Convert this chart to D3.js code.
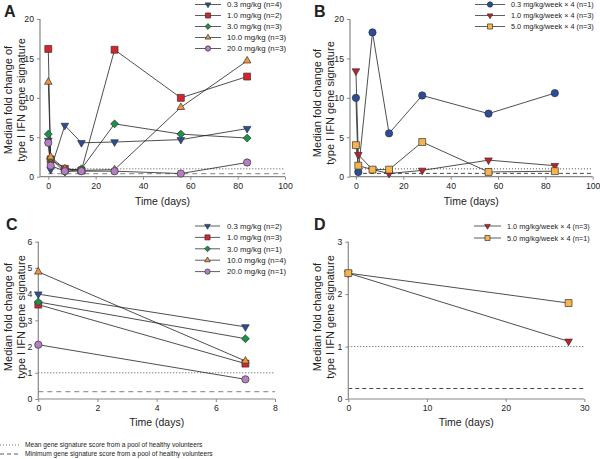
<!DOCTYPE html>
<html><head><meta charset="utf-8">
<script src="https://cdn.jsdelivr.net/npm/d3@7/dist/d3.min.js"></script>
<style>
body{margin:0;background:#fff;}
svg text{font-family:"Liberation Sans",Arial,sans-serif;fill:#222;}
</style></head>
<body><svg id="c" width="600" height="459"></svg>
<script>
// ---------- data ----------
const daysAB = [0, 1, 7, 14, 28, 56, 84];
const daysC = [0, 7];
const daysD = [0, 28];

const labelsA = ["0.3 mg/kg (n=4)", "1.0 mg/kg (n=2)", "3.0 mg/kg (n=3)", "10.0 mg/kg (n=3)", "20.0 mg/kg (n=3)"];
const valuesA03 = [4.6, 0.9, 6.5, 4.3, 4.4, 4.7, 6.1];
const valuesA10 = [16.2, 2.2, 1.0, 0.8, 16.1, 10.0, 12.7];
const valuesA30 = [5.4, 2.3, 0.6, 1.0, 6.7, 5.4, 4.9];
const valuesA100 = [12.0, 2.5, 1.0, 0.8, 0.9, 8.8, 14.7];
const valuesA200 = [4.3, 1.4, 0.7, 0.7, 0.7, 0.4, 1.8];

const labelsB = ["0.3 mg/kg/week \u00d7 4 (n=1)", "1.0 mg/kg/week \u00d7 4 (n=3)", "5.0 mg/kg/week \u00d7 4 (n=3)"];
const valuesB03 = [10.0, 0.6, 18.3, 5.5, 10.3, 8.0, 10.6];
const valuesB10 = [13.4, 2.8, 0.9, 0.4, 0.8, 2.1, 1.4];
const valuesB50 = [4.0, 1.4, 0.9, 0.9, 4.4, 0.6, 0.7];

const labelsC = ["0.3 mg/kg (n=2)", "1.0 mg/kg (n=3)", "3.0 mg/kg (n=1)", "10.0 mg/kg (n=4)", "20.0 mg/kg (n=1)"];
const valuesC03 = [4.0, 2.75];
const valuesC10 = [3.6, 1.35];
const valuesC30 = [3.7, 2.3];
const valuesC100 = [4.85, 1.45];
const valuesC200 = [2.07, 0.75];

const labelsD = ["1.0 mg/kg/week \u00d7 4 (n=3)", "5.0 mg/kg/week \u00d7 4 (n=1)"];
const valuesD10 = [2.4, 1.1];
const valuesD50 = [2.4, 1.83];

const meanRef = 1.0;
const minRefA = 0.4, minRefB = 0.42, minRefC = 0.28, minRefD = 0.2;

const ticksAB_x = [0, 20, 40, 60, 80, 100];
const ticksAB_y = [0, 5, 10, 15, 20];
const ticksC_x = [0, 2, 4, 6, 8];
const ticksC_y = [0, 1, 2, 3, 4, 5, 6];
const ticksD_x = [0, 10, 20, 30];
const ticksD_y = [0, 1, 2, 3];

const footnotes = ["Mean gene signature score from a pool of healthy volunteers",
                   "Minimum gene signature score from a pool of healthy volunteers"];
const yTitle = ["Median fold change of", "type I IFN gene signature"];
const xTitle = "Time (days)";

// ---------- styles ----------
const BLUE = "#2b4c9b", RED = "#d6232d", GREEN = "#169447", ORANGE = "#f2923a",
      PURPLE = "#b47fc4", YELLOW = "#f6b54c", DRED = "#c41f2b";

const svg = d3.select("#c");

function marker(g, shape, x, y, color, s) {
  let sym;
  if (shape === "tri-down" || shape === "tri-up") sym = d3.symbol(d3.symbolTriangle, s*s*0.45);
  else if (shape === "square") sym = d3.symbol(d3.symbolSquare, s*s*0.85);
  else if (shape === "diamond") sym = d3.symbol(d3.symbolSquare, s*s*0.55);
  else sym = d3.symbol(d3.symbolCircle, s*s*0.75);
  let rot = shape === "tri-down" ? 180 : shape === "diamond" ? 45 : 0;
  g.append("path").attr("d", sym())
    .attr("transform", `translate(${x},${y}) rotate(${rot})`)
    .attr("fill", color).attr("stroke", "#333").attr("stroke-width", 0.7);
}

function panel(cfg) {
  const g = svg.append("g");
  const x = d3.scaleLinear().domain(cfg.xd).range(cfg.xr);
  const y = d3.scaleLinear().domain(cfg.yd).range(cfg.yr);

  // reference lines
  g.append("line").attr("x1", x(0)).attr("x2", cfg.xr[1])
    .attr("y1", y(meanRef)).attr("y2", y(meanRef))
    .attr("stroke", "#222").attr("stroke-width", 0.8).attr("stroke-dasharray", "1,2");
  g.append("line").attr("x1", x(0)).attr("x2", cfg.xr[1])
    .attr("y1", y(cfg.minRef)).attr("y2", y(cfg.minRef))
    .attr("stroke", cfg.dashColor).attr("stroke-width", cfg.dashW).attr("stroke-dasharray", cfg.dash);

  // axes
  const ax = g.append("g").attr("transform", `translate(0,${cfg.yr[0]})`)
    .call(d3.axisBottom(x).tickValues(cfg.xt).tickSize(3).tickPadding(3).tickFormat(d3.format("d")));
  const ay = g.append("g").attr("transform", `translate(${cfg.xr[0]},0)`)
    .call(d3.axisLeft(y).tickValues(cfg.yt).tickSize(3).tickPadding(3).tickFormat(d3.format("d")));
  [ax, ay].forEach(a => {
    a.select(".domain").attr("stroke", "#888").attr("stroke-width", 1.2);
    a.selectAll(".tick line").attr("stroke", "#888");
    a.selectAll(".tick text").attr("font-size", 8.7).style("fill", "#222")
      .attr("font-family", "Liberation Sans, Arial, sans-serif");
  });
  ax.select(".domain").attr("d", `M${cfg.xr[0]},0H${cfg.xr[1]}`);
  ay.select(".domain").attr("d", `M0,${cfg.yr[0]}V${cfg.yr[1]}`);

  // series
  cfg.series.forEach(s => {
    const pts = s.values.map((v, i) => [x(cfg.days[i]), y(v)]);
    g.append("path").attr("d", d3.line()(pts)).attr("fill", "none")
      .attr("stroke", "#222").attr("stroke-width", 0.8);
  });
  cfg.series.forEach(s => {
    s.values.forEach((v, i) => marker(g, s.shape, x(cfg.days[i]), y(v), s.color, 7.5));
  });

  // legend
  cfg.series.forEach((s, i) => {
    const ly = cfg.leg.y + i * cfg.leg.dy;
    g.append("line").attr("x1", cfg.leg.x1).attr("x2", cfg.leg.x2).attr("y1", ly).attr("y2", ly)
      .attr("stroke", "#333").attr("stroke-width", 0.8);
    marker(g, s.shape, (cfg.leg.x1 + cfg.leg.x2) / 2, ly, s.color, 5.5);
    g.append("text").attr("x", cfg.leg.tx).attr("y", ly).attr("dy", "0.35em")
      .attr("font-size", cfg.leg.fs).text(cfg.labels[i]);
  });

  // titles
  g.append("text").attr("x", cfg.letter[0]).attr("y", cfg.letter[1])
    .attr("font-size", 16).attr("font-weight", "bold").text(cfg.name);
  g.append("text").attr("x", (cfg.xr[0] + cfg.xr[1]) / 2).attr("y", cfg.xTitleY)
    .attr("text-anchor", "middle").attr("dy", "0.35em").attr("font-size", 10.5).text(xTitle);
  yTitle.forEach((t, i) => {
    g.append("text")
      .attr("transform", `translate(${cfg.yTitle[i]},${cfg.yTitleC}) rotate(-90)`)
      .attr("text-anchor", "middle").attr("dy", "0.35em").attr("font-size", 11).text(t);
  });
}

panel({
  name: "A", letter: [4, 17], xd: [-3.5, 100], xr: [40, 285], yd: [0, 20], yr: [176.7, 19],
  xt: ticksAB_x, yt: ticksAB_y, days: daysAB, minRef: minRefA,
  dashColor: "#999", dashW: 1.3, dash: "5,4",
  series: [
    {values: valuesA03, shape: "tri-down", color: BLUE},
    {values: valuesA10, shape: "square", color: RED},
    {values: valuesA30, shape: "diamond", color: GREEN},
    {values: valuesA100, shape: "tri-up", color: ORANGE},
    {values: valuesA200, shape: "circle", color: PURPLE}
  ],
  labels: labelsA, leg: {x1: 195, x2: 221, tx: 227, y: 4.5, dy: 11, fs: 7.8},
  xTitleY: 201, yTitle: [8, 21], yTitleC: 100
});

panel({
  name: "B", letter: [314, 17], xd: [-2.5, 100], xr: [350, 592.7], yd: [0, 20], yr: [176.7, 19],
  xt: ticksAB_x, yt: ticksAB_y, days: daysAB, minRef: minRefB,
  dashColor: "#333", dashW: 0.9, dash: "4,3",
  series: [
    {values: valuesB03, shape: "circle", color: BLUE},
    {values: valuesB10, shape: "tri-down", color: DRED},
    {values: valuesB50, shape: "square", color: YELLOW}
  ],
  labels: labelsB, leg: {x1: 475, x2: 505, tx: 511, y: 4.5, dy: 11, fs: 7.3},
  xTitleY: 201, yTitle: [317, 330], yTitleC: 103
});

panel({
  name: "C", letter: [6, 230], xd: [0, 8], xr: [38.3, 275], yd: [0, 6], yr: [399, 241.7],
  xt: ticksC_x, yt: ticksC_y, days: daysC, minRef: minRefC,
  dashColor: "#999", dashW: 1.3, dash: "5,4",
  series: [
    {values: valuesC03, shape: "tri-down", color: BLUE},
    {values: valuesC10, shape: "square", color: RED},
    {values: valuesC30, shape: "diamond", color: GREEN},
    {values: valuesC100, shape: "tri-up", color: ORANGE},
    {values: valuesC200, shape: "circle", color: PURPLE}
  ],
  labels: labelsC, leg: {x1: 195, x2: 220, tx: 227, y: 226, dy: 11.4, fs: 7.8},
  xTitleY: 422, yTitle: [8, 21], yTitleC: 317
});

panel({
  name: "D", letter: [314, 230], xd: [0, 30], xr: [348.3, 584.3], yd: [0, 3], yr: [399, 241.7],
  xt: ticksD_x, yt: ticksD_y, days: daysD, minRef: minRefD,
  dashColor: "#333", dashW: 0.9, dash: "4,3",
  series: [
    {values: valuesD10, shape: "tri-down", color: DRED},
    {values: valuesD50, shape: "square", color: YELLOW}
  ],
  labels: labelsD, leg: {x1: 474, x2: 501, tx: 507, y: 226, dy: 12, fs: 7.3},
  xTitleY: 422, yTitle: [317, 330], yTitleC: 317
});

// footnotes
const fy = [445, 454];
svg.append("line").attr("x1", 0).attr("x2", 20).attr("y1", fy[0]).attr("y2", fy[0])
  .attr("stroke", "#333").attr("stroke-width", 0.7).attr("stroke-dasharray", "1,2");
svg.append("line").attr("x1", 0).attr("x2", 20).attr("y1", fy[1]).attr("y2", fy[1])
  .attr("stroke", "#333").attr("stroke-width", 0.8).attr("stroke-dasharray", "4,3");
footnotes.forEach((t, i) => {
  svg.append("text").attr("x", 25).attr("y", fy[i]).attr("dy", "0.35em")
    .attr("font-size", 6.6).text(t);
});
</script></body></html>
